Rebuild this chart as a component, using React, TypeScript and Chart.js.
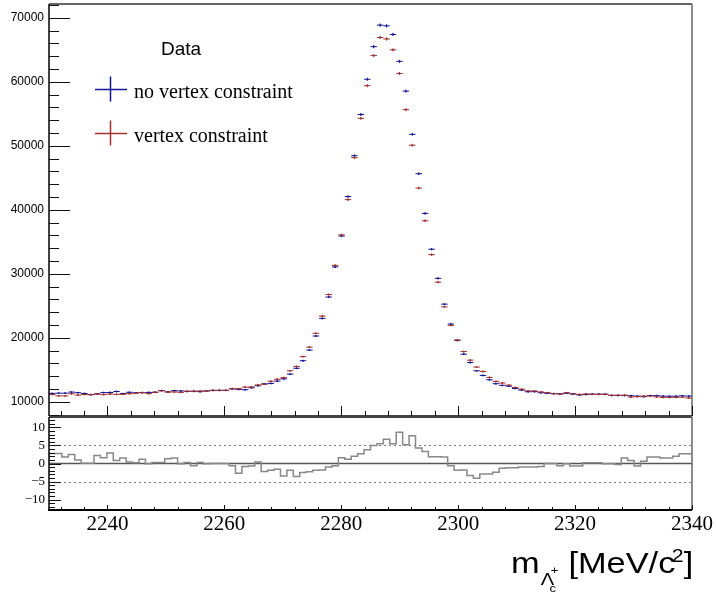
import React, { useEffect, useRef } from "react";
import { Chart, registerables } from "chart.js";
Chart.register(...registerables);

// ---- binning ----
const BIN_LOW = 2230;
const BIN_WIDTH = 1.1;
const X_MIN = 2230;
const X_MAX = 2340;

// ---- data (counts per 1.1 MeV bin) ----
const noVertex = [
  11320, 11360, 11360, 11530, 11440, 11310, 11140, 11250, 11460, 11470,
  11620, 11300, 11500, 11420, 11460, 11480, 11490, 11770, 11570, 11750,
  11710, 11640, 11670, 11600, 11720, 11790, 11800, 11800, 12050, 11950,
  11900, 12210, 12530, 12820, 12880, 13250, 13600, 14340, 15250, 16430,
  18100, 20290, 23040, 26380, 31080, 35920, 42080, 48450, 54900, 60400,
  65500, 68860, 68750, 67400, 63200, 58550, 51800, 45650, 39450, 33850,
  29300, 25270, 22160, 19600, 17450, 16150, 14860, 14130, 13460, 12840,
  12580, 12450, 12100, 11850, 11590, 11600, 11430, 11350, 11290, 11240,
  11350, 11230, 11090, 11150, 11210, 11200, 11200, 11010, 11010, 11000,
  10960, 10900, 10820, 10990, 10980, 10900, 10880, 10880, 10950, 10900,
];
const withVertex = [
  11160, 10940, 10940, 11270, 11060, 11160, 11120, 11230, 11140, 11230,
  11180, 11180, 11280, 11360, 11440, 11300, 11510, 11730, 11530, 11550,
  11490, 11660, 11630, 11700, 11680, 11810, 11800, 11800, 12050, 12050,
  12310, 12330, 12640, 12760, 13220, 13540, 13790, 14860, 15530, 17080,
  18540, 20710, 23400, 26770, 31320, 36080, 41600, 48150, 54300, 59400,
  64100, 66930, 66700, 65000, 61300, 55650, 50100, 43400, 38300, 33000,
  28700, 24850, 21960, 19660, 17860, 16520, 15440, 14750, 13820, 13200,
  12950, 12620, 12250, 11980, 11710, 11710, 11550, 11450, 11290, 11240,
  11430, 11250, 11170, 11230, 11180, 11170, 11170, 11020, 11020, 11040,
  10760, 10820, 10900, 10920, 10780, 10700, 10700, 10710, 10740, 10600,
];
const pulls = [
  1.1, 2.8, 2.8, 1.8, 2.5, 1.0, 0.1, 0.1, 2.2, 1.6,
  2.9, 0.8, 1.5, 0.4, 0.2, 1.2, -0.1, 0.3, 0.3, 1.3,
  1.5, -0.1, 0.3, -0.6, 0.3, -0.1, 0, 0, 0, -0.6,
  -2.7, -0.8, -0.7, 0.4, -2.2, -1.9, -1.6, -3.5, -1.9, -3.6,
  -2.5, -2.3, -1.9, -1.8, -1.0, -0.6, 1.6, 1.2, 2.0, 2.7,
  3.8, 5.0, 5.5, 6.7, 5.5, 8.7, 5.2, 7.7, 4.3, 3.3,
  1.9, 1.9, 1.8, -0.6, -1.9, -1.8, -3.3, -4.1, -2.9, -2.9,
  -2.4, -1.3, -1.2, -1.2, -1.0, -1.0, -1.0, -0.8, 0, 0,
  -0.6, -0.1, -0.7, -0.7, 0.2, 0.2, 0.2, -0.1, -0.1, -0.3,
  1.5, 0.8, -0.7, 0.6, 1.8, 1.8, 1.5, 1.5, 2.0, 2.7,
];

// ---- ticks ----
const xMajorTicks = [2240, 2260, 2280, 2300, 2320, 2340];
const topYTicks = [10000, 20000, 30000, 40000, 50000, 60000, 70000];
const pullYTicks = [-10, -5, 0, 5, 10];
const pullRefLines = [-5, 5];

const TOP_Y_MIN = 7795;
const TOP_Y_MAX = 72160;
const PULL_MIN = -12.9;
const PULL_MAX = 12.9;

const BLUE = "rgb(20,20,150)";
const RED = "rgb(165,45,45)";

const SANS = '"Liberation Sans", Arial, sans-serif';
const SERIF = '"Liberation Serif", "Times New Roman", serif';

function line(ctx: CanvasRenderingContext2D, x1: number, y1: number, x2: number, y2: number) {
  ctx.beginPath();
  ctx.moveTo(x1, y1);
  ctx.lineTo(x2, y2);
  ctx.stroke();
}

function noPad(s: any) {
  s.paddingTop = 0;
  s.paddingBottom = 0;
  s.paddingLeft = 0;
  s.paddingRight = 0;
}

const errorBarPlugin = {
  id: "errorBars",
  afterDatasetsDraw(chart: any) {
    const { ctx, chartArea, scales } = chart;
    const xs = scales.x;
    const ys = scales.y;
    ctx.save();
    ctx.beginPath();
    ctx.rect(chartArea.left, chartArea.top, chartArea.right - chartArea.left, chartArea.bottom - chartArea.top);
    ctx.clip();
    chart.data.datasets.forEach((ds: any) => {
      if (!ds.errorBars) return;
      ctx.strokeStyle = ds.borderColor;
      ctx.lineWidth = 1;
      ds.data.forEach((p: any) => {
        const px = xs.getPixelForValue(p.x);
        const py = ys.getPixelForValue(p.y);
        const e = Math.sqrt(p.y);
        line(ctx, px, ys.getPixelForValue(p.y - e), px, ys.getPixelForValue(p.y + e));
        line(ctx, xs.getPixelForValue(p.x - BIN_WIDTH / 2), py, xs.getPixelForValue(p.x + BIN_WIDTH / 2), py);
      });
    });
    ctx.restore();
  },
};

function xMinorTicks() {
  const out: number[] = [];
  for (let v = 2232; v <= X_MAX + 1e-9; v += 4) out.push(v);
  return out;
}

const topFramePlugin = {
  id: "topFrame",
  afterDraw(chart: any) {
    const { ctx, chartArea: a, scales } = chart;
    const xs = scales.x;
    const ys = scales.y;
    ctx.save();
    // frame
    ctx.strokeStyle = "#666";
    ctx.lineWidth = 2;
    line(ctx, a.left, a.top, a.right, a.top);
    ctx.lineWidth = 1.5;
    line(ctx, a.right, a.top, a.right, a.bottom);
    ctx.strokeStyle = "#444";
    ctx.lineWidth = 2;
    line(ctx, a.left, a.bottom, a.right, a.bottom);
    ctx.strokeStyle = "#000";
    ctx.lineWidth = 1.5;
    line(ctx, a.left, a.top, a.left, a.bottom);
    // y ticks
    ctx.lineWidth = 1;
    ctx.strokeStyle = "#111";
    for (let v = 8000; v <= TOP_Y_MAX; v += 2000) {
      const py = Math.round(ys.getPixelForValue(v)) + 0.5;
      const len = v % 10000 === 0 ? 21 : 10;
      line(ctx, a.left, py, a.left + len, py);
    }
    // x ticks (bottom, pointing up)
    xMinorTicks().forEach((v) => {
      const px = Math.round(xs.getPixelForValue(v)) + 0.5;
      const len = xMajorTicks.includes(v) ? 10 : 5;
      line(ctx, px, a.bottom, px, a.bottom - len);
    });
    // legend
    ctx.fillStyle = "#000";
    ctx.textBaseline = "alphabetic";
    ctx.textAlign = "left";
    ctx.font = "19px " + SANS;
    ctx.fillText("Data", 161, 55);
    const entries = [
      { color: BLUE, y: 89.5, text: "no vertex constraint", base: 98 },
      { color: RED, y: 133.5, text: "vertex constraint", base: 142 },
    ];
    entries.forEach((en) => {
      ctx.strokeStyle = en.color;
      ctx.lineWidth = 1.5;
      line(ctx, 95, en.y, 127, en.y);
      line(ctx, 110.5, en.y - 13, 110.5, en.y + 12);
      ctx.fillStyle = "#000";
      ctx.font = "20px " + SERIF;
      ctx.fillText(en.text, 134, en.base);
    });
    ctx.restore();
  },
};

const bottomRefPlugin = {
  id: "bottomRef",
  beforeDatasetsDraw(chart: any) {
    const { ctx, chartArea: a, scales } = chart;
    const ys = scales.y;
    ctx.save();
    ctx.strokeStyle = "#777";
    ctx.lineWidth = 1;
    ctx.setLineDash([2, 3]);
    pullRefLines.forEach((v) => {
      const py = Math.round(ys.getPixelForValue(v)) + 0.5;
      line(ctx, a.left, py, a.right, py);
    });
    ctx.setLineDash([]);
    ctx.strokeStyle = "#555";
    ctx.lineWidth = 1.5;
    const p0 = ys.getPixelForValue(0);
    line(ctx, a.left, p0, a.right, p0);
    ctx.restore();
  },
  afterDraw(chart: any) {
    const { ctx, chartArea: a, scales } = chart;
    const xs = scales.x;
    const ys = scales.y;
    ctx.save();
    ctx.strokeStyle = "#444";
    ctx.lineWidth = 2;
    line(ctx, a.left, a.top, a.right, a.top);
    ctx.strokeStyle = "#666";
    ctx.lineWidth = 1.5;
    line(ctx, a.right, a.top, a.right, a.bottom);
    ctx.strokeStyle = "#000";
    ctx.lineWidth = 2;
    line(ctx, a.left - 1, a.bottom, a.right, a.bottom);
    ctx.lineWidth = 1.5;
    line(ctx, a.left, a.top, a.left, a.bottom);
    ctx.lineWidth = 1;
    ctx.strokeStyle = "#111";
    for (let v = -12; v <= 12; v += 1) {
      const py = Math.round(ys.getPixelForValue(v)) + 0.5;
      const len = v % 5 === 0 ? 12 : 6;
      line(ctx, a.left, py, a.left + len, py);
    }
    xMinorTicks().forEach((v) => {
      const px = Math.round(xs.getPixelForValue(v)) + 0.5;
      const len = xMajorTicks.includes(v) ? 5 : 3;
      line(ctx, px, a.bottom, px, a.bottom - len);
    });
    // axis title: m_{Λ_c^+} [MeV/c^2]
    const fMain = "29px " + SANS;
    const fSub = "17px " + SANS;
    const fTiny = "11px " + SANS;
    const fSup = "18px " + SANS;
    ctx.fillStyle = "#000";
    ctx.textBaseline = "alphabetic";
    ctx.textAlign = "left";
    ctx.font = fMain;
    const wm = ctx.measureText("m").width;
    const wB = ctx.measureText(" [MeV/c").width;
    const wE = ctx.measureText("]").width;
    ctx.font = fSub;
    const wL = ctx.measureText("\u039B").width;
    ctx.font = fTiny;
    const wc = Math.max(ctx.measureText("c").width, ctx.measureText("+").width);
    ctx.font = fSup;
    const w2 = ctx.measureText("2").width;
    const natural = wm + wL + wc * 0.6 + wB + w2 * 0.7 + wE;
    const targetRight = a.right;
    const targetWidth = 181;
    const sx = targetWidth / natural;
    const base = 163;
    ctx.translate(targetRight - targetWidth, 0);
    ctx.scale(sx, 1);
    let x = 0;
    ctx.font = fMain;
    ctx.fillText("m", x, base);
    x += wm + 1;
    ctx.font = fSub;
    ctx.fillText("\u039B", x, base + 12);
    x += wL;
    ctx.font = fTiny;
    ctx.fillText("+", x - 3, base + 1);
    ctx.fillText("c", x - 4, base + 19);
    x += wc * 0.6;
    ctx.font = fMain;
    ctx.fillText(" [MeV/c", x, base);
    x += wB;
    ctx.font = fSup;
    ctx.fillText("2", x - w2 * 0.3, base - 11);
    x += w2 * 0.7;
    ctx.font = fMain;
    ctx.fillText("]", x, base);
    ctx.restore();
  },
};

export default function App() {
  const topRef = useRef<HTMLCanvasElement>(null);
  const botRef = useRef<HTMLCanvasElement>(null);

  useEffect(() => {
    const centers = noVertex.map((_, i) => BIN_LOW + BIN_WIDTH * (i + 0.5));
    const blueData = noVertex.map((v, i) => ({ x: centers[i], y: v }));
    const redData = withVertex.map((v, i) => ({ x: centers[i], y: v }));
    const pullData = pulls.map((v, i) => ({ x: BIN_LOW + BIN_WIDTH * i, y: v }));
    pullData.push({ x: X_MAX, y: pulls[pulls.length - 1] });

    const top = new Chart(topRef.current!, {
      type: "scatter",
      data: {
        datasets: [
          {
            label: "no vertex constraint",
            data: blueData,
            borderColor: BLUE,
            backgroundColor: BLUE,
            pointRadius: 0.9,
            pointBorderWidth: 0,
            showLine: false,
            errorBars: true,
          } as any,
          {
            label: "vertex constraint",
            data: redData,
            borderColor: RED,
            backgroundColor: RED,
            pointRadius: 0.9,
            pointBorderWidth: 0,
            showLine: false,
            errorBars: true,
          } as any,
        ],
      },
      options: {
        responsive: false,
        animation: false,
        devicePixelRatio: 1,
        layout: { padding: { left: 0, right: 24, top: 2, bottom: 3.5 } },
        plugins: { legend: { display: false }, tooltip: { enabled: false } },
        scales: {
          x: { type: "linear", min: X_MIN, max: X_MAX, display: false },
          y: {
            type: "linear",
            min: TOP_Y_MIN,
            max: TOP_Y_MAX,
            afterFit: (s: any) => { s.width = 49; noPad(s); },
            afterBuildTicks: (s: any) => { s.ticks = topYTicks.map((v) => ({ value: v })); },
            grid: { display: false, drawTicks: false },
            border: { display: false },
            ticks: {
              padding: 5,
              color: "#000",
              font: { family: SANS, size: 12 },
              callback: (v: any) => String(v),
            },
          },
        },
      } as any,
      plugins: [errorBarPlugin, topFramePlugin],
    });

    const bot = new Chart(botRef.current!, {
      type: "line",
      data: {
        datasets: [
          {
            label: "pull",
            data: pullData,
            stepped: "after",
            borderColor: "#888",
            borderWidth: 1.5,
            pointRadius: 0,
            fill: false,
          } as any,
        ],
      },
      options: {
        responsive: false,
        animation: false,
        devicePixelRatio: 1,
        layout: { padding: { left: 0, right: 24, top: 7, bottom: 0 } },
        plugins: { legend: { display: false }, tooltip: { enabled: false } },
        scales: {
          x: {
            type: "linear",
            min: X_MIN,
            max: X_MAX,
            afterFit: (s: any) => { s.height = 86; noPad(s); },
            afterBuildTicks: (s: any) => { s.ticks = xMajorTicks.map((v) => ({ value: v })); },
            grid: { display: false, drawTicks: false },
            border: { display: false },
            ticks: {
              padding: 2,
              color: "#000",
              maxRotation: 0,
              font: { family: SERIF, size: 21 },
              callback: (v: any) => String(v),
            },
          },
          y: {
            type: "linear",
            min: PULL_MIN,
            max: PULL_MAX,
            afterFit: (s: any) => { s.width = 49; noPad(s); },
            afterBuildTicks: (s: any) => { s.ticks = pullYTicks.map((v) => ({ value: v })); },
            grid: { display: false, drawTicks: false },
            border: { display: false },
            ticks: {
              padding: 4,
              color: "#000",
              font: { family: SERIF, size: 13 },
              callback: (v: any) => (v < 0 ? "\u2212" + Math.abs(v) : String(v)),
            },
          },
        },
      } as any,
      plugins: [bottomRefPlugin],
    });

    return () => {
      top.destroy();
      bot.destroy();
    };
  }, []);

  return (
    <div style={{ position: "absolute", left: 0, top: 0, width: 716, height: 596, background: "#fff" }}>
      <canvas ref={topRef} width={716} height={420} style={{ position: "absolute", left: 0, top: 0 }} />
      <canvas ref={botRef} width={716} height={186} style={{ position: "absolute", left: 0, top: 410 }} />
    </div>
  );
}
